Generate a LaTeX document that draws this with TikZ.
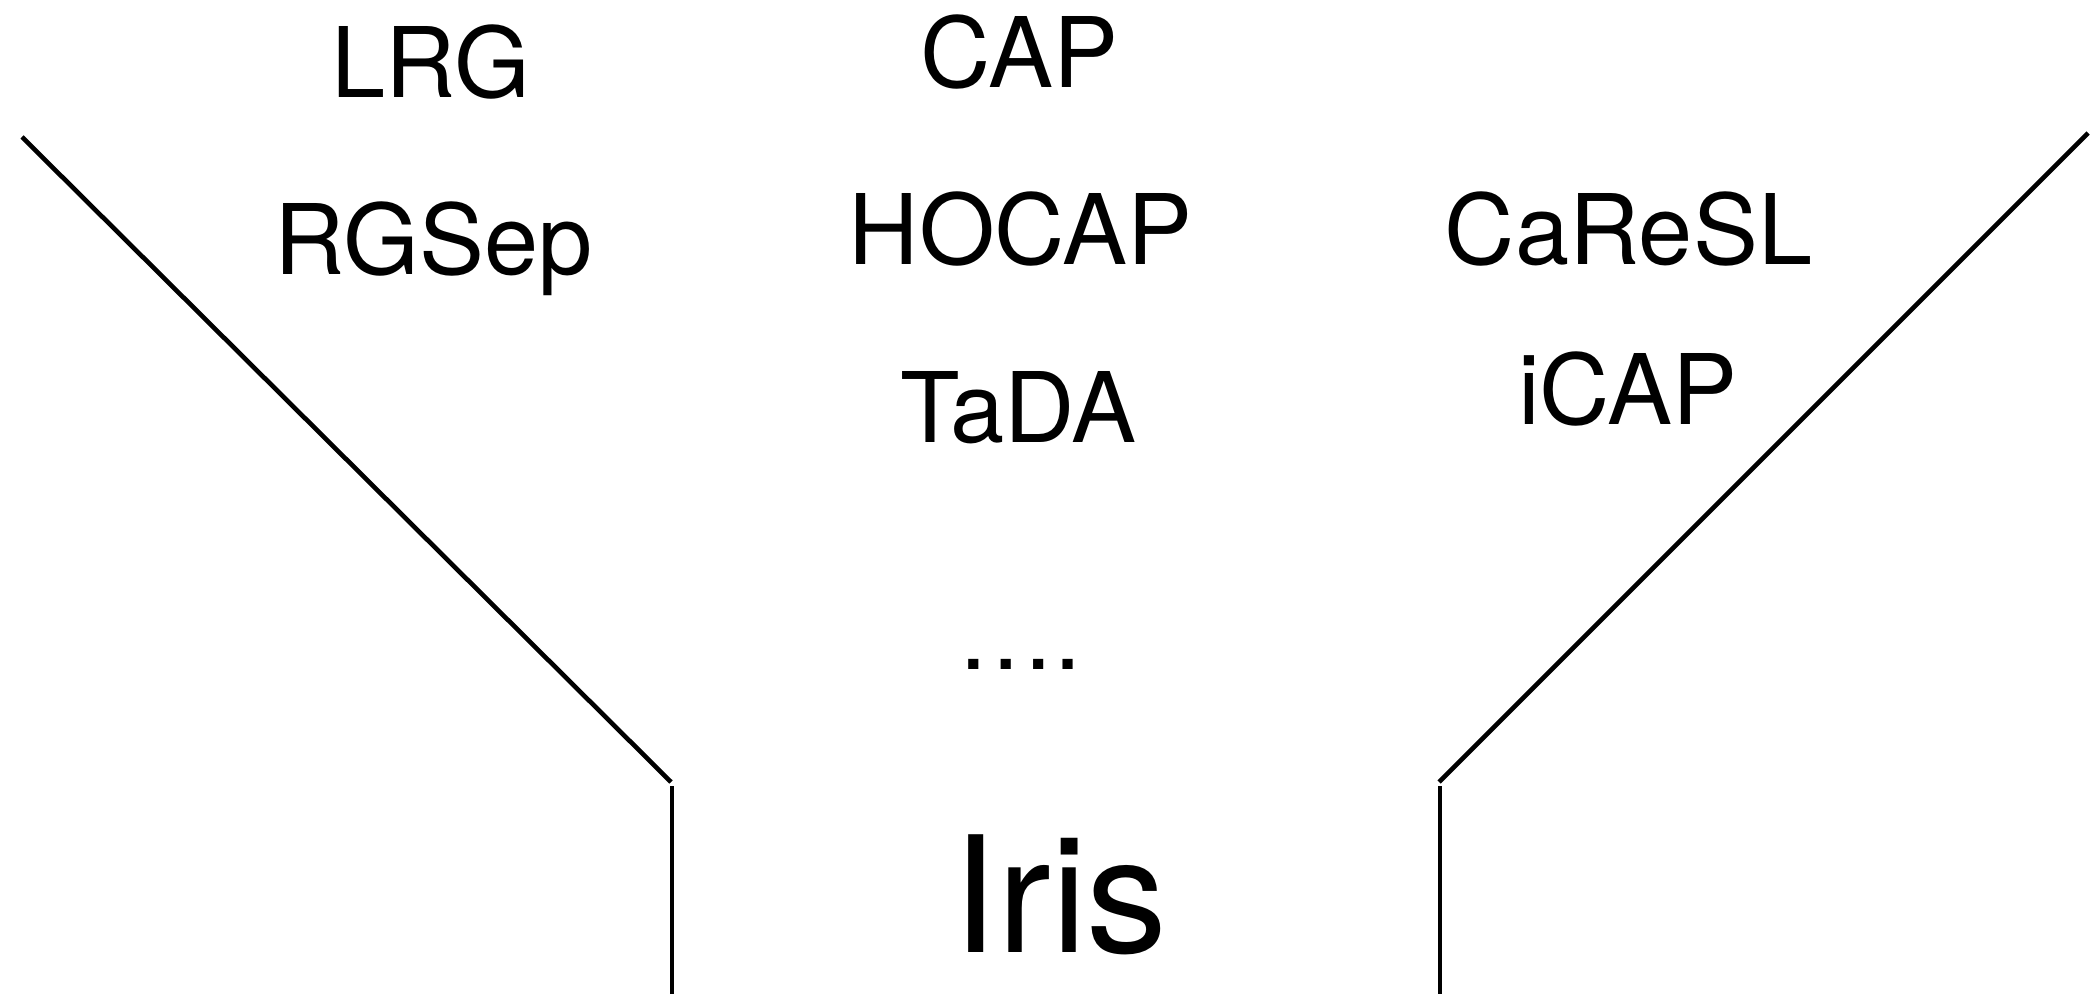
\documentclass[tikz,border=0pt]{standalone}
\usepackage{fontspec}
\setmainfont{TeX Gyre Heros}
\begin{document}
\begin{tikzpicture}[x=0.5pt,y=-0.5pt,
  label/.style={anchor=base,inner sep=0pt,font=\fontsize{48.7}{58}\selectfont},
  title/.style={anchor=base,inner sep=0pt,font=\fontsize{80.8}{96}\selectfont},
  wall/.style={line width=2.3pt,black}]
\useasboundingbox (0,0) rectangle (2091,994);
% funnel outline
\coordinate (lt) at (22,137);
\coordinate (lc) at (671,782);
\coordinate (lv) at (672,786);
\coordinate (lb) at (672,994);
\coordinate (rt) at (2088,133);
\coordinate (rc) at (1439,782);
\coordinate (rv) at (1440,786);
\coordinate (rb) at (1440,994);
\draw[wall] (lt) -- (lc);
\draw[wall] (lv) -- (lb);
\draw[wall] (rt) -- (rc);
\draw[wall] (rv) -- (rb);
% logics poured into the funnel
\node[label] (lrg) at (431,98) {LRG};
\node[label] (cap) at (1019.5,88) {CAP};
\node[label] (rgsep) at (433.5,275) {RGSep};
\node[label] (hocap) at (1020.5,265) {HOCAP};
\node[label] (caresl) at (1628.5,265) {CaReSL};
\node[label] (tada) at (1018.5,442) {TaDA};
\node[label] (icap) at (1627.5,424) {iCAP};
\node[label] (more) at (1019.5,669) {….};
\node[title] (iris) at (1060,952) {Iris};
\end{tikzpicture}
\end{document}
